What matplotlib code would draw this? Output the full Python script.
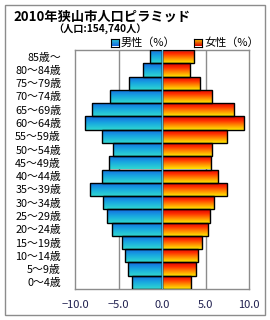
import numpy as np
import matplotlib
matplotlib.use("Agg")
import matplotlib.pyplot as plt
from matplotlib.colors import LinearSegmentedColormap

plt.rcParams['font.family'] = ['Noto Sans CJK JP', 'DejaVu Sans']

categories = ["0～4歳", "5～9歳", "10～14歳", "15～19歳", "20～24歳", "25～29歳",
              "30～34歳", "35～39歳", "40～44歳", "45～49歳", "50～54歳", "55～59歳",
              "60～64歳", "65～69歳", "70～74歳", "75～79歳", "80～84歳", "85歳～"]
male = [3.45, 3.9, 4.25, 4.6, 5.75, 6.3, 6.8, 8.3, 6.9, 6.1, 5.6, 6.9,
        8.85, 8.05, 6.0, 3.8, 2.2, 1.4]
female = [3.35, 3.9, 4.15, 4.6, 5.3, 5.5, 6.0, 7.5, 6.45, 5.65, 5.75, 7.45,
          9.4, 8.3, 5.75, 4.35, 3.2, 3.7]
xticks = [-10.0, -5.0, 0.0, 5.0, 10.0]
xticklabels = ["−10.0", "−5.0", "0.0", "5.0", "10.0"]

fig = plt.figure(figsize=(2.7, 3.2), dpi=100)
fig.patch.set_facecolor('white')

# outer frame
frame = plt.Rectangle((5/270, 5/320), 260/270, 310/320, transform=fig.transFigure,
                      fill=False, edgecolor='#8c8c8c', linewidth=1.0)
fig.patches.append(frame)

ax = fig.add_axes([75/270, 31/320, 174/270, 239/320])
y = np.arange(len(categories))

cmap_m = LinearSegmentedColormap.from_list('m', ['#30d8d0', '#18a8e0', '#1468e0'])
cmap_f = LinearSegmentedColormap.from_list('f', ['#ffe800', '#ff9000', '#ff3000', '#d80000'])

for xi in [-5, 5]:
    ax.axvline(xi, color='#8c8c8c', linewidth=1.0, zorder=0)

bars_m = ax.barh(y, [-v for v in male], height=1.0, color='none', edgecolor='black', linewidth=1.0, zorder=3)
bars_f = ax.barh(y, female, height=1.0, color='none', edgecolor='black', linewidth=1.0, zorder=3)

grad = np.linspace(0, 1, 64).reshape(-1, 1)
for bars, cmap in [(bars_m, cmap_m), (bars_f, cmap_f)]:
    for b in bars:
        x0, y0 = b.get_x(), b.get_y()
        w, h = b.get_width(), b.get_height()
        im = ax.imshow(grad, cmap=cmap, aspect='auto',
                       extent=[min(x0, x0 + w), max(x0, x0 + w), y0 + h, y0],
                       zorder=2, interpolation='bilinear')
        im.set_clip_path(b)
ax.axvline(0, color='#50b8e0', linewidth=1.0, zorder=4)

ax.set_xlim(-10, 10)
ax.set_ylim(-0.5, len(categories) - 0.5)
ax.set_xticks(xticks)
ax.set_xticklabels(xticklabels, fontsize=8, color='#202050')
ax.set_yticks(y)
ax.set_yticklabels(categories, fontsize=7.8, color='black')
ax.tick_params(axis='both', length=0)
ax.tick_params(axis='x', pad=8)
ax.tick_params(axis='y', pad=10)
for s in ax.spines.values():
    s.set_color('#8c8c8c')
    s.set_linewidth(1.0)

fig.text(13/270, 1 - 17/320, "2010年狭山市人口ピラミッド", fontsize=9.5, fontweight='bold',
         va='center', ha='left')
fig.text(100/270, 1 - 29.5/320, "（人口:154,740人）", fontsize=7.3, fontweight='bold',
         va='center', ha='center')

# legend
for x0, c1, c2, lab in [(111, '#30d8d0', '#1468e0', "男性（%）"), (194, '#ffe800', '#d80000', "女性（%）")]:
    sq = fig.add_axes([x0/270, 1 - 46.5/320, 8/270, 8/320])
    cm = LinearSegmentedColormap.from_list('l', [c1, c2])
    sq.imshow(grad, cmap=cm, aspect='auto')
    sq.set_xticks([]); sq.set_yticks([])
    for s in sq.spines.values():
        s.set_color('black'); s.set_linewidth(0.8)
    fig.text((x0 + 10)/270, 1 - 42.5/320, lab, fontsize=8, va='center', ha='left')

fig.savefig('out.png', dpi=100)
